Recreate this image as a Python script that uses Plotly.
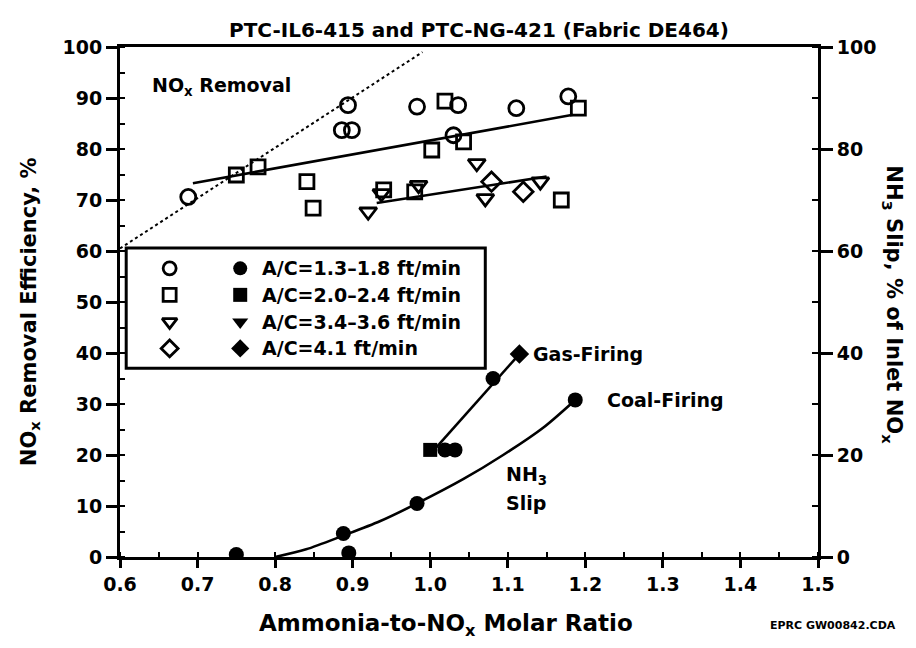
import plotly.graph_objects as go

# ---- NOx removal (open symbols, left axis) ----
circ_x = [0.688, 0.894, 0.886, 0.899, 0.983, 1.036, 1.111, 1.178, 1.030]
circ_y = [70.6, 88.6, 83.7, 83.7, 88.3, 88.6, 88.0, 90.3, 82.7]

sq_x = [0.750, 0.778, 0.841, 0.849, 0.940, 0.980, 1.002, 1.019, 1.043, 1.169, 1.191]
sq_y = [74.9, 76.5, 73.6, 68.4, 72.0, 71.6, 79.8, 89.4, 81.4, 70.0, 88.0]

tri_x = [0.920, 0.937, 0.985, 1.060, 1.071, 1.142]
tri_y = [67.7, 71.3, 72.9, 77.2, 70.3, 73.6]

dia_x = [1.079, 1.120]
dia_y = [73.6, 71.6]

# trend lines through the removal data
upper_fit_x = [0.694, 1.184]
upper_fit_y = [73.3, 86.7]
lower_fit_x = [0.931, 1.150]
lower_fit_y = [69.4, 74.6]

# dotted stoichiometric reference line
stoich_x = [0.600, 0.990]
stoich_y = [60.5, 99.0]

# ---- NH3 slip (filled symbols, right axis) ----
coal_pts_x = [0.750, 0.888, 0.895, 0.983, 1.187]
coal_pts_y = [0.5, 4.6, 0.8, 10.5, 30.8]
coal_curve_x = [0.800, 0.840, 0.888, 0.935, 0.983, 1.043, 1.094, 1.146, 1.187]
coal_curve_y = [0.0, 1.5, 4.2, 7.0, 10.5, 15.3, 20.0, 25.4, 30.8]

gas_sq_x = [1.000]
gas_sq_y = [21.0]
gas_circ_x = [1.019, 1.032, 1.081]
gas_circ_y = [21.0, 21.0, 35.0]
gas_dia_x = [1.115]
gas_dia_y = [39.8]
gas_line_x = [1.005, 1.115]
gas_line_y = [21.0, 39.8]

legend_labels = ["A/C=1.3\u20131.8 ft/min", "A/C=2.0\u20132.4 ft/min",
                 "A/C=3.4\u20133.6 ft/min", "A/C=4.1 ft/min"]
open_symbols = ["circle-open", "square-open", "triangle-down-open", "diamond-open"]
filled_symbols = ["circle", "square", "triangle-down", "diamond"]

FONT = "DejaVu Sans, Verdana, sans-serif"
BLACK = "#000000"

fig = go.Figure()


def add_line(x, y, dash="solid", width=2.6, yaxis="y", shape="linear"):
    fig.add_trace(go.Scatter(x=x, y=y, mode="lines", yaxis=yaxis,
                             line=dict(color=BLACK, width=width, dash=dash, shape=shape,
                                       smoothing=0.8),
                             showlegend=False, hoverinfo="skip"))


def add_markers(x, y, symbol, size, yaxis="y", lw=2.8):
    fig.add_trace(go.Scatter(x=x, y=y, mode="markers", yaxis=yaxis,
                             marker=dict(symbol=symbol, size=size, color=BLACK,
                                         line=dict(color=BLACK, width=lw)),
                             showlegend=False))


def label(x, y, text, size=19, xanchor="left", **kw):
    fig.add_annotation(x=x, y=y, text=text, showarrow=False, xanchor=xanchor,
                       yanchor="middle", align="center",
                       font=dict(family=FONT, size=size, color=BLACK, weight="bold"), **kw)


add_line(stoich_x, stoich_y, dash="dot", width=2)
add_line(upper_fit_x, upper_fit_y)
add_line(lower_fit_x, lower_fit_y)

add_markers(circ_x, circ_y, "circle-open", 15)
add_markers(sq_x, sq_y, "square-open", 14)
add_markers(tri_x, tri_y, "triangle-down-open", 15)
add_markers(dia_x, dia_y, "diamond-open", 15)

add_line(coal_curve_x, coal_curve_y, yaxis="y2", shape="spline")
add_line(gas_line_x, gas_line_y, yaxis="y2")
add_markers(coal_pts_x, coal_pts_y, "circle", 15, yaxis="y2", lw=0)
add_markers(gas_sq_x, gas_sq_y, "square", 14, yaxis="y2", lw=0)
add_markers(gas_circ_x, gas_circ_y, "circle", 15, yaxis="y2", lw=0)
add_markers(gas_dia_x, gas_dia_y, "diamond", 15, yaxis="y2", lw=0)

# custom two-column key inside the plot
key_rows = [56.6, 51.4, 46.1, 40.9]
for sym_o, sym_f, text, ky in zip(open_symbols, filled_symbols, legend_labels, key_rows):
    add_markers([0.664], [ky], sym_o, 13)
    add_markers([0.755], [ky], sym_f, 14, lw=0)
    label(0.780, ky, text)
fig.add_shape(type="rect", x0=0.608, x1=1.071, y0=37.0, y1=60.6, xref="x", yref="y",
              line=dict(color=BLACK, width=3), fillcolor="rgba(0,0,0,0)")

label(0.639, 92.2, "NO<sub>x</sub> Removal")
label(1.130, 39.8, "Gas-Firing", yref="y2")
label(1.225, 30.8, "Coal-Firing", yref="y2")
label(1.124, 15.9, "NH<sub>3</sub>", xanchor="center", yref="y2")
label(1.124, 10.6, "Slip", xanchor="center", yref="y2")

# titles and footnote
label(0.514, 1.033, "PTC-IL6-415 and PTC-NG-421 (Fabric DE464)", size=20,
      xanchor="center", xref="paper", yref="paper")
label(0.467, -0.133, "Ammonia-to-NO<sub>x</sub> Molar Ratio", size=23,
      xanchor="center", xref="paper", yref="paper")
label(-0.129, 0.482, "NO<sub>x</sub> Removal Efficiency, %", size=21,
      xanchor="center", xref="paper", yref="paper", textangle=-90)
label(1.107, 0.494, "NH<sub>3</sub> Slip, % of Inlet NO<sub>x</sub>", size=21,
      xanchor="center", xref="paper", yref="paper", textangle=90)
label(1.115, -0.135, "EPRC GW00842.CDA", size=11, xanchor="right",
      xref="paper", yref="paper")

tickfont = dict(family=FONT, size=19, color=BLACK, weight="bold")

fig.update_layout(
    width=916, height=648,
    margin=dict(l=120, r=98, t=47, b=91),
    paper_bgcolor="white", plot_bgcolor="white",
    showlegend=False,
    xaxis=dict(range=[0.6, 1.5], dtick=0.1, tick0=0.6, tickformat=".1f",
               showgrid=False, zeroline=False, showline=True, linecolor=BLACK,
               linewidth=3, mirror=True, ticks="outside", ticklen=8, tickwidth=2.5,
               tickcolor=BLACK, tickfont=tickfont,
               minor=dict(dtick=0.05, ticks="inside", ticklen=5, tickwidth=2, tickcolor=BLACK)),
    yaxis=dict(range=[0, 100], dtick=10, showgrid=False, zeroline=False,
               showline=True, linecolor=BLACK, linewidth=3, ticks="outside",
               ticklen=11, tickwidth=2.5, tickcolor=BLACK, tickfont=tickfont,
               minor=dict(dtick=5, ticks="inside", ticklen=5, tickwidth=2, tickcolor=BLACK)),
    yaxis2=dict(range=[0, 100], dtick=20, overlaying="y", side="right",
                showgrid=False, zeroline=False, showline=True, linecolor=BLACK,
                linewidth=3, ticks="outside", ticklen=12, tickwidth=2.5,
                tickcolor=BLACK, tickfont=tickfont,
                minor=dict(dtick=10, ticks="inside", ticklen=6, tickwidth=2, tickcolor=BLACK)),
)

fig.write_html("out.html")
